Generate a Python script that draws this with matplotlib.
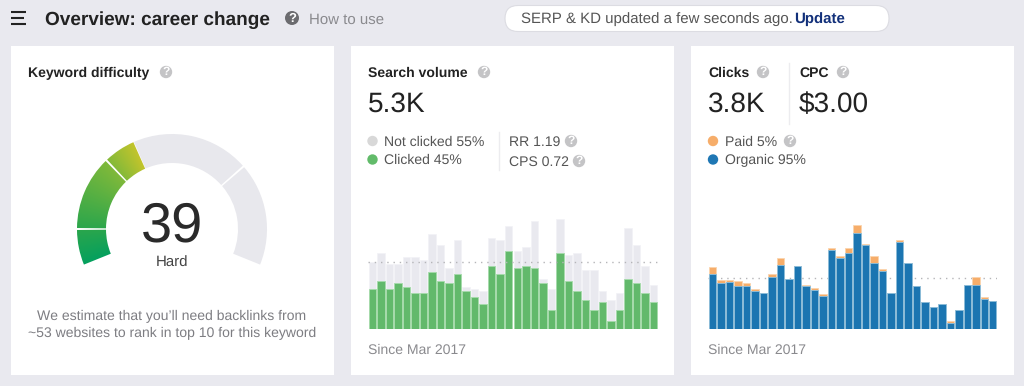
import numpy as np
import matplotlib
matplotlib.use("Agg")
import matplotlib.pyplot as plt
from matplotlib.patches import Rectangle, Circle, Wedge, FancyBboxPatch
from matplotlib.colors import LinearSegmentedColormap

plt.rcParams['font.family'] = ['Liberation Sans', 'DejaVu Sans']
plt.rcParams['text.hinting'] = 'no_hinting'
plt.rcParams['text.hinting_factor'] = 1

W, H = 1024, 386

# Bar heights (relative units)
sv_total = [201,226,195,195,214,214,207,283,252,182,265,125,119,113,271,265,309,233,245,322,150,119,330,220,226,175,175,113,87,107,302,252,188,132]
sv_clicked = [119,144,119,138,125,107,107,170,144,138,163,113,94,75,189,163,233,182,189,182,138,56,226,144,113,87,56,81,24,56,150,138,107,81]
sv_average = 201
cl_total = [184,146,146,142,137,118,108,165,212,150,188,132,123,104,241,217,241,312,255,217,180,108,265,197,127,80,65,74,24,56,131,156,94,84]
cl_organic = [164,136,140,127,127,113,108,155,192,150,188,127,116,99,236,212,226,287,250,197,174,108,259,197,127,80,65,74,17,56,131,131,89,84]
cl_average = 152

# Gauge segments: on-screen start and end angle in degrees, counter-clockwise
gauge_green = [(180.6, 202), (134.3, 179.4), (114, 133.1)]
gauge_grey = [(41.8, 113.6), (-22, 40.6)]
gauge_stops = [202, 180, 134, 114]
gauge_colors = ['#05a05e', '#2ba64c', '#80b93a', '#c2c42c']

BG = '#e9e9ef'
fig = plt.figure(figsize=(W/100, H/100), dpi=100, facecolor=BG)
ax = fig.add_axes([0, 0, 1, 1])
ax.set_xlim(0, W)
ax.set_ylim(H, 0)
ax.axis('off')

for x0 in (11, 351, 691):
    ax.add_patch(Rectangle((x0, 46), 323, 329, fc='white', ec='none', zorder=1))


def txt(x, y, s, size=10.5, color='#333333', weight='normal', ha='left'):
    return ax.text(x, y, s, fontsize=size, color=color, fontweight=weight, ha=ha, va='baseline', zorder=5)


def help_icon(x, y, r=6.2, color='#c4c4c6'):
    ax.add_patch(Circle((x, y), r, fc=color, ec='none', zorder=5))
    ax.text(x, y + 0.3, '?', fontsize=r * 1.35, color='white', fontweight='bold', ha='center', va='center', zorder=6)


def dot(x, y, color):
    ax.add_patch(Circle((x, y), 5.2, fc=color, ec='none', zorder=5))


def screen_wedge(a_lo, a_hi, **kw):
    # The y axis points down, so on-screen angles are mirrored in data space
    return Wedge((cx, cy), R, -a_hi, -a_lo, width=R - r, ec='none', zorder=2, **kw)


# Header
for y, x1 in ((12.3, 26), (18, 23.5), (23.7, 26)):
    ax.plot([11, x1], [y, y], color='#222222', lw=1.5, solid_capstyle='butt', zorder=5)
txt(45, 25, 'Overview: career change', 13.45, '#222222', 'bold')
help_icon(292, 18, 7, '#6b6b6f')
txt(309, 23.5, 'How to use', 10.8, '#8a8a8e')
ax.add_patch(FancyBboxPatch((505, 5.5), 384, 26, boxstyle='round,pad=0,rounding_size=13',
                            fc='white', ec='#dcdce2', lw=0.8, zorder=3))
txt(521, 23, 'SERP & KD updated a few seconds ago.', 10.6, '#555555')
txt(794, 23, 'Update', 10.5, '#12307a', 'bold')

# Card 1
txt(28, 77, 'Keyword difficulty', 10.4, '#222222', 'bold')
help_icon(166, 72)
cx, cy, R, r = 172, 229, 95, 66
for a_lo, a_hi in gauge_grey:
    ax.add_patch(screen_wedge(a_lo, a_hi, fc='#e8e8ed'))
ys, xs = np.mgrid[125:275:300j, 70:180:220j]
ang = np.degrees(np.arctan2(cy - ys, xs - cx)) % 360
span = gauge_stops[0] - gauge_stops[-1]
t = np.clip((gauge_stops[0] - ang) / span, 0, 1)
cmap = LinearSegmentedColormap.from_list(
    'gauge', [((gauge_stops[0] - s) / span, c) for s, c in zip(gauge_stops, gauge_colors)])
for a_lo, a_hi in gauge_green:
    wedge = screen_wedge(a_lo, a_hi, fc='none')
    ax.add_patch(wedge)
    im = ax.imshow(t, extent=(70, 180, 275, 125), cmap=cmap, vmin=0, vmax=1, aspect='auto', zorder=2, interpolation='bilinear')
    im.set_clip_path(wedge)
ax.set_xlim(0, W)
ax.set_ylim(H, 0)
txt(172, 241.5, '39', 40, '#2a2a2a', ha='center')
txt(172, 266.5, 'Hard', 10.8, '#444444', ha='center')
txt(172, 320, 'We estimate that you\u2019ll need backlinks from', 10.0, '#7d7d82', ha='center')
txt(172, 337, '~53 websites to rank in top 10 for this keyword', 10.0, '#7d7d82', ha='center')

# Card 2
txt(368, 77, 'Search volume', 10.3, '#222222', 'bold')
help_icon(484, 72)
txt(368, 112, '5.3K', 19.8, '#222222')
dot(372.5, 141, '#d8d8d8')
dot(372.5, 159.5, '#62bb6a')
txt(384, 146, 'Not clicked 55%', 10.3, '#555555')
txt(384, 164, 'Clicked 45%', 10.3, '#555555')
ax.plot([499, 499], [132, 170], color='#ececef', lw=1, zorder=4)
txt(509, 146, 'RR 1.19', 10.2, '#555555')
txt(509, 166, 'CPS 0.72', 10.1, '#555555')
help_icon(571, 141)
help_icon(579, 161)
txt(368, 354, 'Since Mar 2017', 9.9, '#8a8a8e')

# Card 3
txt(708, 77, 'Clicks', 10.4, '#222222', 'bold')
help_icon(763, 72)
txt(799, 77, 'CPC', 10.4, '#222222', 'bold')
help_icon(843, 72)
ax.plot([789, 789], [63, 124], color='#ececef', lw=1, zorder=4)
txt(708, 112, '3.8K', 19.8, '#222222')
txt(799, 112, '$3.00', 19.8, '#222222')
dot(713, 141, '#f6ad6a')
dot(713, 159.5, '#1f77b4')
txt(725, 146, 'Paid 5%', 10.2, '#555555')
txt(725, 164, 'Organic 95%', 10.0, '#555555')
help_icon(790, 141)
txt(708, 354, 'Since Mar 2017', 9.9, '#8a8a8e')


def bar_axes(x0, x1, base, top_units=345):
    h = top_units / 3
    a = fig.add_axes([x0 / W, 1 - base / H, (x1 - x0) / W, h / H])
    a.set_xlim(-0.5, 33.5)
    a.set_ylim(0, top_units)
    a.axis('off')
    a.patch.set_alpha(0)
    return a


a1 = bar_axes(368, 658, 328.5)
x = np.arange(len(sv_total))
a1.bar(x, sv_total, 0.88, color='#e9e9ef', edgecolor='#f2f2f6', lw=0.5, zorder=1)
a1.bar(x, sv_clicked, 0.88, color='#62b96b', edgecolor='#a6dbab', lw=0.6, zorder=2)
a1.axhline(sv_average, color='#b5b5b8', lw=1, ls=(0, (1, 3.5)), zorder=3)

a2 = bar_axes(708.3, 997, 328.5)
x = np.arange(len(cl_total))
a2.bar(x, cl_total, 0.88, color='#f6ad6a', edgecolor='#fbd4ae', lw=0.6, zorder=1)
a2.bar(x, cl_organic, 0.88, color='#1b75b1', edgecolor='#8cc0e0', lw=0.6, zorder=2)
a2.axhline(cl_average, color='#b5b5b8', lw=1, ls=(0, (1, 3.5)), zorder=0.5)

fig.savefig('out.png', dpi=100, facecolor=BG)
